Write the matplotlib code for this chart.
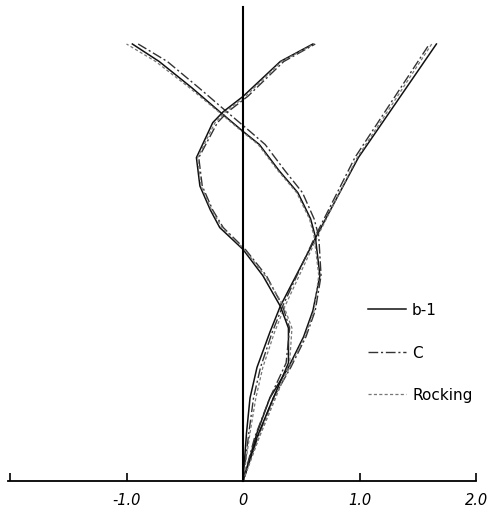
import numpy as np
import matplotlib
matplotlib.use("Agg")
import matplotlib.pyplot as plt
from matplotlib.lines import Line2D

# heights (normalised, 0 = base, 1 = top) and mode-shape amplitudes
h1 = [0, 0.11, 0.19, 0.26, 0.34, 0.40, 0.56, 0.74, 1.0]
m1_b1 = [0, 0.03, 0.06, 0.12, 0.23, 0.32, 0.63, 0.99, 1.66]
m1_c = [0, 0.05, 0.09, 0.15, 0.25, 0.34, 0.62, 0.96, 1.60]
m1_rock = [0, 0.06, 0.11, 0.17, 0.27, 0.36, 0.64, 0.98, 1.62]

h2 = [0, 0.11, 0.19, 0.26, 0.33, 0.39, 0.47, 0.56, 0.60, 0.66, 0.71, 0.77, 0.80, 0.845, 0.90, 0.96, 1.0]
m2_b1 = [0, 0.12, 0.23, 0.39, 0.52, 0.60, 0.66, 0.62, 0.58, 0.47, 0.31, 0.14, 0.0, -0.20, -0.44, -0.72, -0.95]
m2_c = [0, 0.14, 0.26, 0.41, 0.54, 0.62, 0.67, 0.65, 0.61, 0.51, 0.36, 0.19, 0.06, -0.14, -0.38, -0.65, -0.90]
m2_rock = [0, 0.15, 0.27, 0.40, 0.53, 0.61, 0.65, 0.61, 0.57, 0.46, 0.30, 0.13, -0.01, -0.21, -0.46, -0.75, -1.00]

h3 = [0, 0.10, 0.19, 0.27, 0.35, 0.40, 0.47, 0.53, 0.58, 0.62, 0.675, 0.74, 0.82, 0.845, 0.88, 0.96, 1.0]
m3_b1 = [0, 0.12, 0.26, 0.39, 0.39, 0.32, 0.17, 0.0, -0.20, -0.28, -0.37, -0.40, -0.26, -0.17, 0.0, 0.32, 0.60]
m3_c = [0, 0.10, 0.23, 0.37, 0.40, 0.34, 0.20, 0.02, -0.17, -0.26, -0.35, -0.38, -0.22, -0.13, 0.04, 0.35, 0.62]
m3_rock = [0, 0.14, 0.28, 0.40, 0.42, 0.35, 0.19, 0.01, -0.18, -0.27, -0.36, -0.39, -0.24, -0.15, 0.02, 0.33, 0.61]

xticks = [-2.0, -1.0, 0, 1.0, 2.0]
xticklabels = ["", "-1.0", "0", "1.0", "2.0"]
names = ["b-1", "C", "Rocking"]

# line styles for the three models
sty = {
    "b-1": dict(color="#111111", lw=1.1, ls="-"),
    "C": dict(color="#333333", lw=1.0, ls=(0, (7, 2, 1.5, 2))),
    "Rocking": dict(color="#777777", lw=0.9, ls=(0, (2.5, 1.8))),
}

fig = plt.figure(figsize=(4.9, 5.1), dpi=100)
ax = fig.add_axes([0.7 / 490, 28 / 510, 4.16 * 116.5 / 490, 1.1 * 437 / 510])

for h, data in [(h1, [m1_b1, m1_c, m1_rock]),
                (h2, [m2_b1, m2_c, m2_rock]),
                (h3, [m3_b1, m3_c, m3_rock])]:
    for name, xs in zip(names, data):
        ax.plot(xs, h, **sty[name])

ax.set_xlim(-2.08, 2.08)
ax.set_ylim(0, 1.1)

# axes drawn like the hand-made sheet
ax.spines["top"].set_visible(False)
ax.spines["right"].set_visible(False)
ax.spines["left"].set_position(("data", 0))
ax.spines["left"].set_bounds(0, 1.085)
ax.spines["left"].set_linewidth(1.5)
ax.spines["bottom"].set_bounds(-2.02, 2.0)
ax.spines["bottom"].set_linewidth(1.3)
ax.set_yticks([])
ax.set_xticks(xticks)
ax.set_xticklabels(xticklabels, fontstyle="italic", fontsize=10.5)
ax.tick_params(axis="x", direction="in", length=6, width=1.2, pad=8)

handles = [Line2D([], [], **sty[n]) for n in names]
leg = ax.legend(handles, names, loc="upper left", bbox_to_anchor=(0.729, 0.40),
                frameon=False, handlelength=2.5, handletextpad=0.4,
                labelspacing=1.8, fontsize=11)

fig.savefig("out.png", dpi=100)
